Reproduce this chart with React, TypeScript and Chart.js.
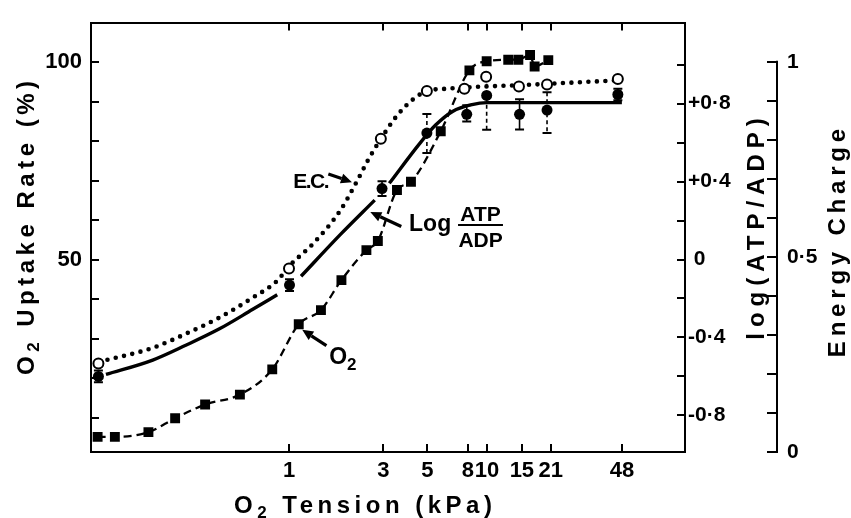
import React, { useEffect, useRef } from 'react';
import { Chart, registerables } from 'chart.js';

Chart.register(...registerables);

// ---- O2 uptake rate (%), filled squares, dashed line ----
const o2Tension = [0.108, 0.132, 0.195, 0.266, 0.377, 0.565, 0.823, 1.12, 1.45, 1.84, 2.46, 2.81, 3.51, 4.13, 5.84, 8.15, 9.96, 12.8, 14.4, 16.5, 17.4, 20.4];
const o2Uptake = [5.1, 5.1, 6.3, 9.8, 13.3, 15.8, 22.2, 33.6, 37.2, 44.8, 52.4, 54.7, 67.6, 69.7, 82.5, 97.9, 100.2, 100.6, 100.6, 101.8, 98.9, 100.5];

// ---- Energy charge, open circles + dotted fitted curve ----
const ecTension = [0.109, 1.0, 2.91, 4.97, 7.69, 9.9, 14.5, 20.1, 45.8];
const ecValue = [0.227, 0.47, 0.803, 0.925, 0.931, 0.962, 0.937, 0.942, 0.956];
const ecFitTension = [0.11, 0.205, 0.301, 0.443, 0.653, 0.872, 1.01, 1.33, 1.82, 2.21, 2.52, 2.89, 3.51, 4.26, 4.97, 6.2, 7.6, 10, 14.5, 21, 48];
const ecFitValue = [0.231, 0.267, 0.303, 0.344, 0.395, 0.439, 0.478, 0.535, 0.62, 0.695, 0.75, 0.8, 0.862, 0.905, 0.925, 0.931, 0.934, 0.937, 0.94, 0.944, 0.953];

// ---- log(ATP/ADP), filled circles with error bars + solid fitted curve ----
const logTension = [0.109, 1.006, 2.95, 4.97, 7.9, 9.96, 14.6, 20.1, 45.8];
const logValue = [-0.6, -0.131, 0.364, 0.649, 0.745, 0.842, 0.745, 0.767, 0.847];
const logErrUp = [0.03, 0.03, 0.038, 0.098, 0.047, 0.096, 0.078, 0.092, 0.03];
const logErrDown = [0.03, 0.03, 0.038, 0.102, 0.037, 0.176, 0.078, 0.118, 0.03];
const logErrDashed = [false, false, false, true, false, true, false, true, false];
const logFitTension = [0.119, 0.205, 0.301, 0.443, 0.653, 0.872, 1.0, 1.15, 1.82, 2.71, 3.0, 3.21, 4.6, 5.5, 6.7, 8.4, 10, 48];
const logFitValue = [-0.59, -0.516, -0.44, -0.357, -0.257, -0.181, null, -0.086, 0.129, 0.305, null, 0.391, 0.599, 0.69, 0.76, 0.795, 0.805, 0.805];

// ---- ticks ----
const xTicks = [1, 3, 5, 8, 10, 15, 21, 48];
const yTicks = [10, 20, 30, 40, 50, 60, 70, 80, 90, 100];
const yTickLabels = ['', '', '', '', '50', '', '', '', '', '100'];
const logTicks = [-0.8, -0.6, -0.4, -0.2, 0, 0.2, 0.4, 0.6, 0.8, 1.0];
const logTickLabels = ['-0·8', '', '-0·4', '', ' 0', '', '+0·4', '', '+0·8', ''];
const ecTicks = [0, 0.1, 0.2, 0.3, 0.4, 0.5, 0.6, 0.7, 0.8, 0.9, 1.0];
const ecTickLabels = ['0', '', '', '', '', '0·5', '', '', '', '', '1'];

// ---- annotation anchors (x: kPa, y: uptake %) ----
const ecLabelAt = [1.298, 70.0];
const ecArrow = [1.58, 71.65, 2.08, 69.6];
const logLabelAt = [5.16, 59.24];
const fracAt = [9.28, 61.72, 58.74, 55.14]; // x, ATP y, bar y, ADP y
const fracBar = [7.14, 12.04];
const logArrow = [3.69, 58.37, 2.574, 62.02];
const o2LabelAt = [1.871, 25.6];
const o2Arrow = [1.545, 28.2, 1.166, 32.22];

const FONT = '"Liberation Sans", Arial, sans-serif';

function drawRich(ctx: any, parts: any[], cx: number, cy: number, rot: number, spacing: number, mainSize: number) {
  ctx.save();
  ctx.translate(cx, cy);
  ctx.rotate(rot);
  ctx.letterSpacing = spacing + 'px';
  ctx.fillStyle = '#000';
  ctx.textAlign = 'left';
  ctx.textBaseline = 'alphabetic';
  const widths = parts.map((p) => {
    ctx.font = `bold ${p.size}px ${FONT}`;
    return ctx.measureText(p.t).width;
  });
  const total = widths.reduce((a, b) => a + b, 0) - spacing;
  let x = -total / 2;
  const base = mainSize * 0.358;
  parts.forEach((p, i) => {
    ctx.font = `bold ${p.size}px ${FONT}`;
    ctx.fillText(p.t, x, base + (p.dy || 0));
    x += widths[i];
  });
  ctx.restore();
}

function arrow(ctx: any, x1: number, y1: number, x2: number, y2: number) {
  const a = Math.atan2(y2 - y1, x2 - x1);
  const hl = 11, hw = 5;
  const bx = x2 - hl * Math.cos(a), by = y2 - hl * Math.sin(a);
  ctx.save();
  ctx.strokeStyle = '#000';
  ctx.fillStyle = '#000';
  ctx.lineWidth = 3.2;
  ctx.beginPath();
  ctx.moveTo(x1, y1);
  ctx.lineTo(bx, by);
  ctx.stroke();
  ctx.beginPath();
  ctx.moveTo(x2, y2);
  ctx.lineTo(bx + hw * Math.sin(a), by - hw * Math.cos(a));
  ctx.lineTo(bx - hw * Math.sin(a), by + hw * Math.cos(a));
  ctx.closePath();
  ctx.fill();
  ctx.restore();
}

const decorPlugin = {
  id: 'decor',
  beforeDatasetsDraw(chart: any) {
    const ctx = chart.ctx;
    const xs = chart.scales.x;
    const ys = chart.scales.y2;
    logTension.forEach((t, i) => {
      const px = xs.getPixelForValue(t);
      const yTop = ys.getPixelForValue(logValue[i] + logErrUp[i]);
      const yBot = ys.getPixelForValue(logValue[i] - logErrDown[i]);
      ctx.save();
      ctx.strokeStyle = '#000';
      ctx.lineWidth = 1.6;
      ctx.setLineDash(logErrDashed[i] ? [4, 3] : []);
      ctx.beginPath();
      ctx.moveTo(px, yTop);
      ctx.lineTo(px, yBot);
      ctx.stroke();
      ctx.setLineDash([]);
      ctx.lineWidth = 2;
      ctx.beginPath();
      ctx.moveTo(px - 4.5, yTop);
      ctx.lineTo(px + 4.5, yTop);
      ctx.moveTo(px - 4.5, yBot);
      ctx.lineTo(px + 4.5, yBot);
      ctx.stroke();
      ctx.restore();
    });
  },
  afterDraw(chart: any) {
    const ctx = chart.ctx;
    const { left, right, top, bottom } = chart.chartArea;
    const xs = chart.scales.x, ys = chart.scales.y, y2 = chart.scales.y2, y3 = chart.scales.y3;
    ctx.save();
    ctx.strokeStyle = '#000';
    ctx.lineWidth = 2;
    ctx.beginPath();
    xTicks.forEach((v) => {
      const px = Math.round(xs.getPixelForValue(v));
      ctx.moveTo(px, bottom);
      ctx.lineTo(px, bottom - 8);
      ctx.moveTo(px, top);
      ctx.lineTo(px, top + 8);
    });
    yTicks.forEach((v) => {
      const py = Math.round(ys.getPixelForValue(v));
      ctx.moveTo(left, py);
      ctx.lineTo(left + 8, py);
    });
    logTicks.forEach((v) => {
      const py = Math.round(y2.getPixelForValue(v));
      ctx.moveTo(right, py);
      ctx.lineTo(right - 8, py);
    });
    const ax = y3.left;
    ctx.moveTo(ax, y3.getPixelForValue(0) + 1);
    ctx.lineTo(ax, y3.getPixelForValue(1) - 1);
    ecTicks.forEach((v) => {
      const py = Math.round(y3.getPixelForValue(v));
      ctx.moveTo(ax, py);
      ctx.lineTo(ax - 10, py);
    });
    ctx.stroke();
    ctx.restore();

    // axis titles
    drawRich(ctx, [{ t: 'O', size: 24 }, { t: '2', size: 17, dy: 5 }, { t: ' Uptake Rate (%)', size: 24 }], 25, 228, -Math.PI / 2, 4.5, 24);
    drawRich(ctx, [{ t: 'O', size: 24 }, { t: '2', size: 17, dy: 5 }, { t: ' Tension (kPa)', size: 24 }], 363, 504, 0, 4.5, 24);
    drawRich(ctx, [{ t: 'log(ATP/ADP)', size: 24 }], 755, 229, -Math.PI / 2, 6, 24);
    drawRich(ctx, [{ t: 'Energy Charge', size: 24 }], 836, 243, -Math.PI / 2, 4.8, 24);

    // annotations
    const X = (v: number) => xs.getPixelForValue(v);
    const Y = (v: number) => ys.getPixelForValue(v);
    drawRich(ctx, [{ t: 'E.C.', size: 21 }], X(ecLabelAt[0]), Y(ecLabelAt[1]), 0, -1.5, 21);
    arrow(ctx, X(ecArrow[0]), Y(ecArrow[1]), X(ecArrow[2]), Y(ecArrow[3]));
    drawRich(ctx, [{ t: 'Log', size: 23 }], X(logLabelAt[0]), Y(logLabelAt[1]), 0, 0, 23);
    drawRich(ctx, [{ t: 'ATP', size: 21 }], X(fracAt[0]), Y(fracAt[1]), 0, 0, 21);
    drawRich(ctx, [{ t: 'ADP', size: 21 }], X(fracAt[0]), Y(fracAt[3]), 0, 0, 21);
    ctx.save();
    ctx.lineWidth = 2;
    ctx.beginPath();
    ctx.moveTo(X(fracBar[0]), Y(fracAt[2]));
    ctx.lineTo(X(fracBar[1]), Y(fracAt[2]));
    ctx.stroke();
    ctx.restore();
    arrow(ctx, X(logArrow[0]), Y(logArrow[1]), X(logArrow[2]), Y(logArrow[3]));
    drawRich(ctx, [{ t: 'O', size: 23 }, { t: '2', size: 17, dy: 6 }], X(o2LabelAt[0]), Y(o2LabelAt[1]), 0, 0, 23);
    arrow(ctx, X(o2Arrow[0]), Y(o2Arrow[1]), X(o2Arrow[2]), Y(o2Arrow[3]));
  },
};

const pts = (xs: number[], ys: (number | null)[]) => xs.map((x, i) => ({ x, y: ys[i] }));

export default function App() {
  const ref = useRef<HTMLCanvasElement | null>(null);
  useEffect(() => {
    if (!ref.current) return;
    const tickFont = (size: number) => ({ family: FONT, size, weight: 'bold' as const });
    const chart = new Chart(ref.current, {
      type: 'line',
      data: {
        datasets: [
          {
            data: pts(o2Tension, o2Uptake),
            xAxisID: 'x', yAxisID: 'y',
            borderColor: '#000', borderWidth: 2.3, borderDash: [8, 5],
            cubicInterpolationMode: 'monotone',
            pointStyle: 'rect', pointRadius: 7, pointBackgroundColor: '#000', pointBorderWidth: 0,
            order: 3,
          },
          {
            data: pts(ecFitTension, ecFitValue),
            xAxisID: 'x', yAxisID: 'y3',
            borderColor: '#000', borderWidth: 4.6, borderDash: [0, 8.5], borderCapStyle: 'round',
            cubicInterpolationMode: 'monotone', pointRadius: 0,
            order: 5,
          },
          {
            data: pts(ecTension, ecValue),
            xAxisID: 'x', yAxisID: 'y3', showLine: false,
            pointStyle: 'circle', pointRadius: 5, pointBackgroundColor: '#fff', pointBorderColor: '#000', pointBorderWidth: 2,
            order: 2,
          },
          {
            data: pts(logFitTension, logFitValue),
            xAxisID: 'x', yAxisID: 'y2',
            borderColor: '#000', borderWidth: 3.4, spanGaps: false,
            cubicInterpolationMode: 'monotone', pointRadius: 0,
            order: 4,
          },
          {
            data: pts(logTension, logValue),
            xAxisID: 'x', yAxisID: 'y2', showLine: false,
            pointStyle: 'circle', pointRadius: 5.5, pointBackgroundColor: '#000', pointBorderWidth: 0,
            order: 1,
          },
        ] as any,
      },
      options: {
        responsive: false,
        animation: false,
        events: [],
        layout: { padding: 0 },
        plugins: { legend: { display: false }, tooltip: { enabled: false } },
        scales: {
          x: {
            type: 'logarithmic', position: 'bottom', min: 0.1, max: 100,
            afterBuildTicks: (s: any) => { s.ticks = xTicks.map((v) => ({ value: v })); },
            afterFit: (s: any) => { s.height = 66; },
            ticks: { autoSkip: false, maxRotation: 0, padding: 6, color: '#000', font: tickFont(22), callback: (v: any) => String(v) },
            grid: { display: false, drawTicks: false },
            border: { display: true, color: '#000', width: 2 },
          },
          x2: {
            type: 'logarithmic', axis: 'x', position: 'top', min: 0.1, max: 100,
            afterFit: (s: any) => { s.height = 14; },
            ticks: { display: false },
            grid: { display: false, drawTicks: false },
            border: { display: true, color: '#000', width: 2 },
          },
          y: {
            type: 'linear', position: 'left', min: 1.27, max: 110,
            afterBuildTicks: (s: any) => { s.ticks = yTicks.map((v) => ({ value: v })); },
            afterFit: (s: any) => { s.width = 91; },
            ticks: { autoSkip: false, padding: 9, color: '#000', font: tickFont(22), callback: (_v: any, i: number) => yTickLabels[i] },
            grid: { display: false, drawTicks: false },
            border: { display: true, color: '#000', width: 2 },
          },
          y2: {
            type: 'linear', axis: 'y', position: 'right', min: -0.988, max: 1.216, weight: 0,
            afterBuildTicks: (s: any) => { s.ticks = logTicks.map((v) => ({ value: v })); },
            afterFit: (s: any) => { s.width = 92; },
            ticks: { autoSkip: false, padding: 3, color: '#000', font: tickFont(21), callback: (_v: any, i: number) => logTickLabels[i] },
            grid: { display: false, drawTicks: false },
            border: { display: true, color: '#000', width: 2 },
          },
          y3: {
            type: 'linear', axis: 'y', position: 'right', min: 0, max: 1.1005, weight: 1,
            afterBuildTicks: (s: any) => { s.ticks = ecTicks.map((v) => ({ value: v })); },
            afterFit: (s: any) => { s.width = 74; },
            ticks: { autoSkip: false, padding: 10, color: '#000', font: tickFont(21), callback: (_v: any, i: number) => ecTickLabels[i] },
            grid: { display: false, drawTicks: false },
            border: { display: false },
          },
        } as any,
      },
      plugins: [decorPlugin],
    });
    return () => chart.destroy();
  }, []);
  return (
    <div style={{ position: 'fixed', left: 0, top: 0, width: 851, height: 518, background: '#fff' }}>
      <canvas ref={ref} width={851} height={518} style={{ display: 'block' }} />
    </div>
  );
}
